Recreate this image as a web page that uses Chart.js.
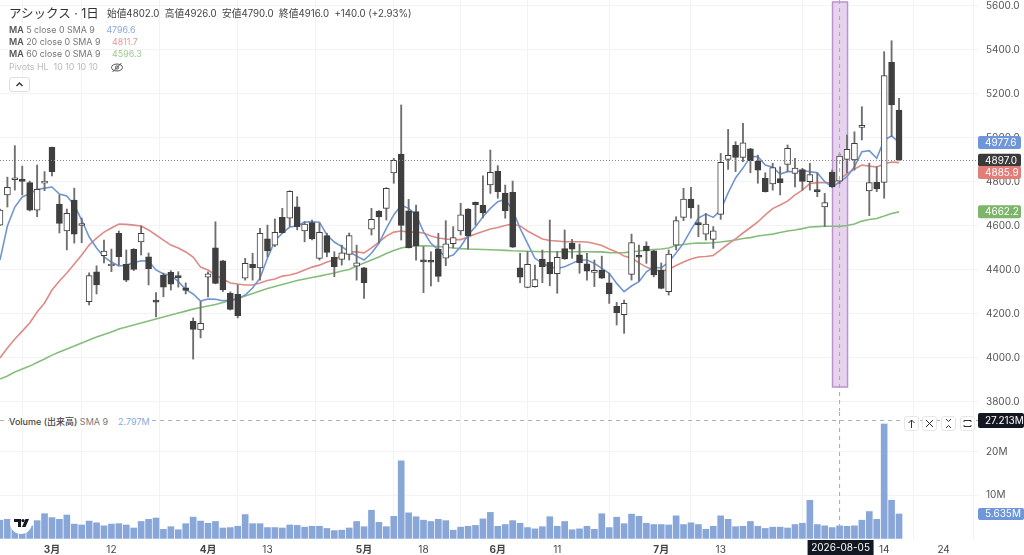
<!DOCTYPE html>
<html lang="ja">
<head>
<meta charset="utf-8">
<title>アシックス 1日</title>
<script src="https://cdn.jsdelivr.net/npm/chart.js@4"></script>
<style>
  html, body { margin: 0; padding: 0; background: #fff; }
  body { width: 1024px; height: 555px; overflow: hidden; position: relative;
         font-family: Inter, "Noto Sans CJK JP", sans-serif; color: #333; }
  canvas { position: absolute; left: 0; filter: blur(0.4px); }
  #priceChart { top: 0; }
  #volumeChart { top: 412px; }
  .txt { position: absolute; white-space: nowrap; line-height: 12px; }
  .title { left: 9px; top: 6px; font-size: 12.5px; line-height: 16px; color: #333; }
  .ohlc { left: 107px; top: 8px; font-size: 9.7px; color: #444; }
  .ma { left: 9px; font-size: 8.9px; color: #777; }
  .ma b { font-weight: 600; color: #555; }
  .ma span { margin-left: 9px; }
  .off { color: #bbb; }
  .vol { left: 9px; top: 416px; font-size: 9px; color: #777; background: #fff; padding-right: 2px; }
  .vol b { font-weight: 500; color: #444; }
  .vol span { margin-left: 10px; color: #8aa8dc; }
  .btn { position: absolute; box-sizing: border-box; width: 15px; height: 15px; top: 416px;
         border: 1px solid #e6e6e6; border-radius: 3px; background: #fff; }
  .btn svg, .up svg { display: block; }
  .up { position: absolute; left: 9px; top: 77px; width: 21px; height: 15px; box-sizing: border-box;
        border: 1px solid #ddd; border-radius: 3px; background: #fff; }
  .logo { position: absolute; left: 10px; top: 512px; width: 22px; height: 22px; border-radius: 50%; background: #fff; }
</style>
</head>
<body>
<canvas id="priceChart" width="1024" height="411"></canvas>
<canvas id="volumeChart" width="1024" height="143"></canvas>

<div class="txt title">アシックス · 1日</div>
<div class="txt ohlc">始値4802.0&nbsp; 高値4926.0&nbsp; 安値4790.0&nbsp; 終値4916.0&nbsp; +140.0 (+2.93%)</div>
<div class="txt ma" style="top:24px"><b>MA</b> 5 close 0 SMA 9 <span style="color:#8aa8dc">4796.6</span></div>
<div class="txt ma" style="top:36px"><b>MA</b> 20 close 0 SMA 9 <span style="color:#e39a97">4811.7</span></div>
<div class="txt ma" style="top:47.5px"><b>MA</b> 60 close 0 SMA 9 <span style="color:#9ccb90">4596.3</span></div>
<div class="txt ma off" style="top:61px">Pivots HL&nbsp; 10 10 10 10</div>
<svg style="position:absolute;left:110px;top:61px" width="14" height="13" viewBox="0 0 14 13" fill="none" stroke="#555" stroke-width="1">
  <ellipse cx="7" cy="6.5" rx="5.5" ry="3.5"/><circle cx="7" cy="6.5" r="1.6"/><path d="M2.5 11 L11.5 2"/>
</svg>
<div class="up"><svg width="19" height="13" viewBox="0 0 19 13" fill="none" stroke="#333" stroke-width="1.3"><path d="M6.5 8 L9.5 5 L12.5 8"/></svg></div>

<div class="txt vol"><b>Volume (出来高)</b> SMA 9<span>2.797M</span></div>
<div class="btn" style="left:904px"><svg width="13" height="13" viewBox="0 0 13 13" fill="none" stroke="#333"><path d="M6.5 11 V3 M3.5 6 L6.5 3 L9.5 6"/></svg></div>
<div class="btn" style="left:922px"><svg width="13" height="13" viewBox="0 0 13 13" fill="none" stroke="#333"><path d="M3 3 L10 10 M10 3 L3 10"/></svg></div>
<div class="btn" style="left:941px"><svg width="13" height="13" viewBox="0 0 13 13" fill="none" stroke="#333"><path d="M4 2 L6.5 4.5 L9 2 M4 11 L6.5 8.5 L9 11"/></svg></div>
<div class="btn" style="left:960px"><svg width="13" height="13" viewBox="0 0 13 13" fill="none" stroke="#333"><path d="M3 5 V3.5 H10 V5 M3 8 V9.5 H10 V8"/></svg></div>
<div class="logo"><svg width="22" height="22" viewBox="0 0 22 22" fill="#131722"><path d="M4 7 H11 V15 H8 V10 H4 Z"/><circle cx="13" cy="8.6" r="1.6"/><path d="M15.5 7 H19 L15.5 15 H12 Z"/></svg></div>

<script>
// first entry is the bar cut off by the left edge
const opens = [4602,
  4739,4808,4811,4795,4670,4793,4955,4698,4576,4716,
  4600,4254,4390,4463,4416,4565,4424,4492,4526,4458,
  4261,4375,4387,4367,4317,4165,4125,4365,4499,4440,
  4292,4287,4361,4424,4407,4540,4511,4637,4633,4685,
  4576,4613,4451,4554,4455,4446,4469,4415,4408,4583,
  4666,4678,4839,4925,4667,4663,4440,4443,4493,4452,
  4517,4575,4675,4705,4693,4785,4848,4748,4751,4408,
  4319,4322,4448,4433,4381,4495,4519,4467,4426,4387,
  4398,4340,4233,4195,4378,4460,4507,4485,4398,4299,
  4511,4637,4720,4609,4561,4537,4651,4901,4965,4910,
  4948,4893,4815,4789,4813,4878,4837,4854,4799,4761,
  4684,4842,4802,4901,4898,5046,4757,4796,4796,5342,
  5125];
const highs = [4675,
  4820,4963,4870,4802,4875,4845,4957,4739,4675,4770,
  4634,4385,4417,4534,4493,4575,4489,4495,4598,4475,
  4295,4384,4395,4390,4339,4180,4254,4390,4617,4442,
  4299,4330,4451,4474,4587,4602,4630,4678,4758,4731,
  4617,4625,4610,4565,4481,4511,4566,4511,4410,4678,
  4668,4772,4905,5148,4719,4693,4504,4481,4565,4622,
  4595,4701,4677,4707,4826,4943,4872,4784,4802,4474,
  4481,4420,4489,4625,4481,4580,4537,4516,4474,4443,
  4461,4383,4251,4261,4561,4511,4526,4487,4430,4489,
  4640,4769,4774,4693,4655,4595,4928,5037,4981,5065,
  4951,4920,4840,4883,4867,4966,4905,4860,4883,4839,
  4746,4852,4926,5011,5026,5140,4883,4867,5390,5440,
  5178];
const lows = [4600,
  4684,4761,4739,4666,4640,4758,4826,4566,4489,4520,
  4522,4239,4289,4430,4390,4420,4345,4395,4466,4330,
  4185,4276,4307,4320,4289,3993,4089,4276,4335,4300,
  4216,4180,4352,4352,4352,4458,4504,4565,4595,4580,
  4526,4534,4443,4458,4367,4420,4443,4352,4269,4557,
  4520,4625,4792,4534,4498,4443,4295,4325,4345,4417,
  4498,4557,4493,4602,4635,4746,4724,4633,4500,4340,
  4317,4320,4340,4326,4292,4446,4451,4383,4352,4322,
  4359,4246,4148,4110,4352,4348,4428,4367,4312,4284,
  4489,4622,4633,4549,4534,4496,4628,4855,4845,4890,
  4840,4792,4752,4761,4739,4845,4776,4761,4761,4731,
  4595,4773,4790,4839,4852,4989,4645,4754,4724,5004,
  4897];
const closes = [4670,
  4774,4812,4800,4670,4765,4797,4845,4610,4655,4561,
  4604,4372,4330,4484,4425,4458,4352,4401,4565,4404,
  4252,4320,4333,4363,4305,4128,4155,4380,4337,4307,
  4219,4190,4428,4408,4565,4485,4569,4567,4755,4595,
  4607,4539,4569,4478,4413,4476,4554,4430,4340,4628,
  4639,4769,4896,4601,4498,4507,4435,4433,4369,4517,
  4545,4649,4554,4695,4657,4842,4754,4666,4502,4365,
  4424,4354,4413,4380,4455,4448,4493,4431,4393,4396,
  4361,4289,4204,4246,4522,4456,4485,4375,4314,4470,
  4622,4720,4680,4604,4607,4576,4887,4919,4910,4976,
  4895,4852,4754,4863,4795,4951,4861,4801,4831,4754,
  4704,4775,4916,4946,4974,5050,4795,4766,5281,5148,
  4897];
const ma5 = [4443,
  4598,4684,4730,4745,4764,4770,4775,4743,4734,4693,
  4625,4549,4498,4457,4434,4416,4420,4431,4440,4439,
  4398,4380,4375,4345,4310,4289,4257,4266,4265,4258,
  4261,4266,4284,4316,4361,4452,4530,4566,4593,4598,
  4616,4617,4615,4557,4525,4504,4481,4461,4443,4474,
  4519,4587,4648,4692,4678,4648,4572,4519,4489,4455,
  4466,4504,4557,4595,4640,4678,4708,4719,4670,4587,
  4519,4451,4428,4413,4405,4413,4428,4443,4443,4428,
  4405,4383,4337,4299,4325,4345,4390,4411,4407,4434,
  4475,4520,4580,4634,4652,4637,4670,4748,4816,4861,
  4913,4913,4875,4865,4834,4845,4845,4849,4845,4840,
  4799,4776,4797,4822,4867,4935,4940,4905,4989,5007,
  4978];
const ma20 = [3998,
  4043,4084,4120,4157,4207,4248,4307,4348,4384,4425,
  4466,4511,4543,4570,4589,4607,4605,4602,4598,4580,
  4557,4534,4511,4498,4480,4457,4411,4398,4375,4357,
  4339,4334,4330,4330,4339,4350,4357,4370,4375,4384,
  4398,4411,4420,4434,4443,4466,4480,4480,4476,4498,
  4525,4552,4570,4575,4570,4570,4566,4552,4543,4539,
  4536,4536,4548,4561,4573,4584,4591,4600,4607,4598,
  4575,4557,4539,4532,4530,4526,4526,4526,4525,4518,
  4509,4493,4480,4461,4452,4430,4411,4398,4393,4400,
  4418,4434,4448,4457,4459,4464,4489,4516,4539,4566,
  4591,4616,4648,4677,4693,4711,4739,4761,4791,4795,
  4795,4793,4812,4834,4857,4875,4870,4866,4880,4889,
  4886];
const ma60 = [3902,
  3916,3934,3948,3961,3977,3993,4011,4025,4039,4052,
  4066,4080,4093,4105,4116,4130,4139,4148,4157,4166,
  4175,4184,4193,4202,4211,4220,4227,4234,4241,4250,
  4259,4268,4280,4291,4302,4314,4323,4332,4341,4350,
  4357,4364,4370,4377,4384,4393,4400,4416,4430,4443,
  4457,4473,4486,4498,4504,4507,4508,4507,4505,4502,
  4498,4495,4493,4492,4491,4490,4489,4487,4485,4484,
  4483,4482,4481,4481,4481,4481,4481,4481,4481,4480,
  4480,4477,4476,4477,4480,4484,4489,4491,4493,4498,
  4509,4514,4518,4520,4520,4522,4525,4530,4534,4541,
  4545,4552,4557,4561,4568,4575,4580,4586,4593,4595,
  4597,4597,4596,4600,4607,4620,4627,4632,4643,4655,
  4662];
// millions of shares
const volumes = [4.2,
  4.4,3.1,3.4,2.9,4.1,5.7,4.8,4.4,5.4,3.3,
  3.1,4.0,3.6,2.9,3.3,3.4,3.1,2.4,3.9,4.4,
  4.7,2.1,2.7,2.0,3.4,4.9,4.0,3.5,3.9,2.4,
  2.5,2.8,5.5,3.4,3.4,2.5,2.5,2.4,3.1,3.0,
  2.6,2.8,2.8,2.3,1.8,1.9,2.4,3.9,2.7,6.5,
  3.7,2.7,5.1,17.9,5.9,5.0,4.2,3.9,4.4,4.1,
  1.9,2.6,2.8,3.0,4.5,6.0,2.8,3.2,4.1,3.5,
  2.5,2.2,2.7,5.0,2.8,3.9,2.0,2.2,2.8,2.1,
  5.7,2.5,4.9,3.4,5.6,5.1,3.5,3.2,3.2,3.1,
  5.2,3.2,3.6,3.2,2.1,2.8,5.2,4.4,2.7,2.8,
  3.9,2.8,2.3,2.6,2.6,2.4,3.2,3.5,8.8,3.2,
  2.9,2.5,2.9,2.8,2.9,4.2,6.2,4.4,26.4,8.8,
  5.635];

const priceTicks = [3800, 4000, 4200, 4400, 4600, 4800, 5000, 5200, 5400, 5600];
const volumeTicks = [10, 20];
const dateTickBars = [6, 14, 27, 35, 48, 56, 66, 74, 88, 96, 118, 126];
const dateTickLabels = ["3月", "12", "4月", "13", "5月", "18", "6月", "11", "7月", "13", "14", "24"];

const priceTagValues = [4977.6, 4897.0, 4885.9, 4662.2];
const priceTagColors = ["#6f96d8", "#3a3a3a", "#e37d78", "#7db56a"];
const priceTagNudge = [0, 0, 10, 0];  // red tag gets pushed down off the dark one

const hoverBar = 112;
const hoverVolume = 27.213;
const hoverDate = "2026-08-05";
const lastClose = 4897.0;
const lastVolume = 5.635;

const INK = "#3f3f3f";
const GRID = "#f3f3f5";
const X_MIN = -0.996;
const X_MAX = 130.63;
const AXIS_W = 46;

const bars = opens.map((_, i) => i - 1);
const pts = (arr) => arr.map((v, i) => ({ x: bars[i], y: v }));
const pairs = (a, b) => a.map((v, i) => ({ x: bars[i], y: [v, b[i]] }));

function noPadding(s) {
  s.paddingTop = s.paddingBottom = s.paddingLeft = s.paddingRight = 0;
}

function xAxis(showLabels) {
  return {
    type: "linear",
    min: X_MIN,
    max: X_MAX,
    offset: false,
    border: { display: false },
    grid: { color: GRID, drawTicks: false },
    afterBuildTicks: (s) => { s.ticks = dateTickBars.map((v) => ({ value: v })); },
    afterFit: (s) => { s.height = showLabels ? 15 : 0; noPadding(s); },
    ticks: {
      display: showLabels,
      autoSkip: false,
      maxRotation: 0,
      padding: 4,
      color: "#444",
      font: (c) => {
        const lab = dateTickLabels[dateTickBars.indexOf(c.tick && c.tick.value)] || "";
        return { family: 'Inter, "Noto Sans CJK JP"', size: 10, weight: lab.endsWith("月") ? "700" : "400" };
      },
      callback: (v) => dateTickLabels[dateTickBars.indexOf(v)],
    },
  };
}

function yAxis(min, max, tickList, fmt) {
  return {
    position: "right",
    min,
    max,
    border: { display: false },
    grid: { color: GRID, drawTicks: false },
    afterFit: (s) => { s.width = AXIS_W; noPadding(s); },
    afterBuildTicks: (s) => { s.ticks = tickList.map((v) => ({ value: v })); },
    ticks: {
      padding: 8,
      color: "#555",
      font: { family: "Inter", size: 10 },
      callback: fmt,
    },
  };
}

function tag(ctx, x, y, w, h, text, bg) {
  ctx.save();
  ctx.fillStyle = bg;
  ctx.beginPath();
  ctx.roundRect(x, y - h / 2, w, h, 2);
  ctx.fill();
  ctx.fillStyle = "#fff";
  ctx.font = "10px Inter";
  ctx.textBaseline = "middle";
  ctx.textAlign = "left";
  ctx.fillText(text, x + 7, y + 0.5);
  ctx.restore();
}

function dashed(ctx, x1, y1, x2, y2, dash, color) {
  ctx.save();
  ctx.strokeStyle = color;
  ctx.lineWidth = 1;
  ctx.setLineDash(dash);
  ctx.beginPath();
  ctx.moveTo(x1, y1);
  ctx.lineTo(x2, y2);
  ctx.stroke();
  ctx.restore();
}

// the purple week marker sits behind the candles
const bandPlugin = {
  id: "band",
  beforeDatasetsDraw(chart) {
    const { ctx, scales } = chart;
    const x1 = scales.x.getPixelForValue(111.05);
    const x2 = scales.x.getPixelForValue(113.07);
    const y1 = scales.y.getPixelForValue(5616);
    const y2 = scales.y.getPixelForValue(3866);
    ctx.save();
    ctx.fillStyle = "#e7d3ee";
    ctx.strokeStyle = "#bd93cf";
    ctx.lineWidth = 1.5;
    ctx.fillRect(x1, y1, x2 - x1, y2 - y1);
    ctx.strokeRect(x1, y1, x2 - x1, y2 - y1);
    ctx.restore();
  },
};

const priceOverlay = {
  id: "priceOverlay",
  afterDraw(chart) {
    const { ctx, scales, chartArea } = chart;
    const hx = scales.x.getPixelForValue(hoverBar);
    dashed(ctx, hx, chartArea.top, hx, chartArea.bottom, [4, 4], "#a8a8a8");
    const ly = Math.round(scales.y.getPixelForValue(lastClose)) + 0.5;
    dashed(ctx, chartArea.left, ly, chartArea.right, ly, [1, 2], "#8a8a8a");
    priceTagValues.forEach((v, i) => {
      const y = scales.y.getPixelForValue(v) + priceTagNudge[i];
      tag(ctx, chartArea.right, y, 43, 13, v.toFixed(1), priceTagColors[i]);
    });
  },
};

const volumeOverlay = {
  id: "volumeOverlay",
  afterDraw(chart) {
    const { ctx, scales, chartArea } = chart;
    const hx = scales.x.getPixelForValue(hoverBar);
    const hy = Math.round(scales.y.getPixelForValue(hoverVolume)) + 0.5;
    dashed(ctx, hx, chartArea.top, hx, chartArea.bottom, [4, 4], "#a8a8a8");
    dashed(ctx, chartArea.left, hy, chartArea.right, hy, [4, 4], "#b0b0b0");
    tag(ctx, chartArea.right, hy, 46, 15, hoverVolume.toFixed(3) + "M", "#131722");
    tag(ctx, chartArea.right, scales.y.getPixelForValue(lastVolume), 46, 12, lastVolume.toFixed(3) + "M", "#6f96d8");
    // date flag on the time axis
    ctx.save();
    ctx.fillStyle = "#131722";
    ctx.fillRect(hx - 32, chartArea.bottom, 66, 15);
    ctx.fillStyle = "#fff";
    ctx.font = "10px Inter";
    ctx.textAlign = "center";
    ctx.textBaseline = "middle";
    ctx.fillText(hoverDate, hx + 1, chartArea.bottom + 8);
    ctx.restore();
  },
};

// moving averages go under the candles
const priceLine = (label, data, color) => ({
  type: "line",
  label,
  data: pts(data),
  borderColor: color,
  borderWidth: 1.6,
  pointRadius: 0,
  tension: 0,
  order: 3,
});

new Chart(document.getElementById("priceChart"), {
  type: "bar",
  data: {
    datasets: [
      priceLine("MA 5", ma5, "#7196cf"),
      priceLine("MA 20", ma20, "#df8a86"),
      priceLine("MA 60", ma60, "#86bd7b"),
      {
        label: "Body",
        data: pairs(opens, closes),
        grouped: false,
        barThickness: 6,
        minBarLength: 2,
        backgroundColor: opens.map((o, i) => (closes[i] >= o ? "#fff" : INK)),
        borderColor: INK,
        borderWidth: 1,
        borderSkipped: false,
        order: 1,
      },
      {
        label: "Wick",
        data: pairs(lows, highs),
        grouped: false,
        barThickness: 1.2,
        backgroundColor: "#6e6e6e",
        order: 2,
      },
    ],
  },
  options: {
    responsive: false,
    animation: false,
    layout: { padding: 0 },
    plugins: { legend: { display: false }, tooltip: { enabled: false } },
    scales: {
      x: xAxis(false),
      y: yAxis(3757, 5625, priceTicks, (v) => v.toFixed(1)),
    },
  },
  plugins: [bandPlugin, priceOverlay],
});

new Chart(document.getElementById("volumeChart"), {
  type: "bar",
  data: {
    datasets: [{
      label: "Volume",
      data: pts(volumes),
      barThickness: 6,
      backgroundColor: "#89a6d9",
    }],
  },
  options: {
    responsive: false,
    animation: false,
    layout: { padding: 0 },
    plugins: { legend: { display: false }, tooltip: { enabled: false } },
    scales: {
      x: xAxis(true),
      y: yAxis(-0.37, 29.17, volumeTicks, (v) => v + "M"),
    },
  },
  plugins: [volumeOverlay],
});
</script>
</body>
</html>
